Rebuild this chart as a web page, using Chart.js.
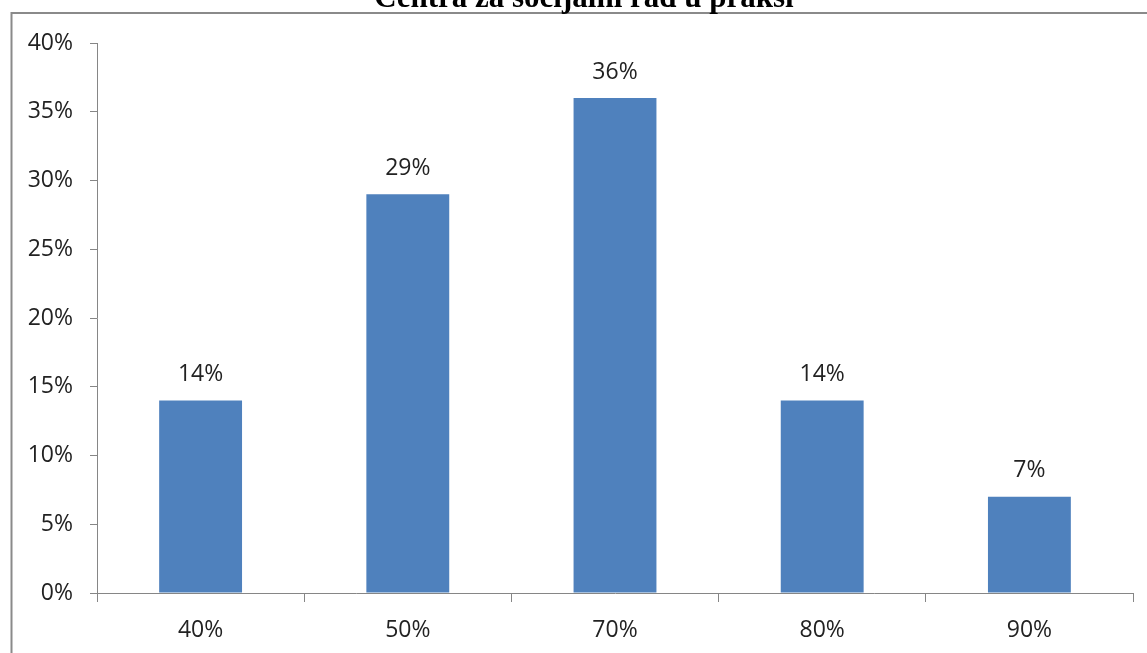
<!DOCTYPE html>
<html>
<head>
<meta charset="utf-8">
<script src="https://cdn.jsdelivr.net/npm/chart.js@4/dist/chart.umd.min.js"></script>
<style>
  html, body { margin: 0; padding: 0; background: #fff; overflow: hidden; }
  canvas { display: block; }
</style>
</head>
<body>
<canvas id="c" width="1147" height="653"></canvas>
<script>
// Share of respondents per category
const categories = ['40%', '50%', '70%', '80%', '90%'];
const shares = [14, 29, 36, 14, 7];
const yTicks = { min: 0, max: 40, step: 5 };
const titleText = 'Centra za socijalni rad u praksi';

const textFont = '"Open Sans", "Noto Sans", sans-serif';
const textColor = '#222';
const axisGray = '#868686';

// Outer frame and (partly clipped) heading
const framePlugin = {
  id: 'frame',
  beforeDraw(chart) {
    const ctx = chart.ctx;
    ctx.save();
    ctx.fillStyle = '#fff';
    ctx.fillRect(0, 0, chart.width, chart.height);
    ctx.strokeStyle = '#8a8a8a';
    ctx.lineWidth = 2;
    ctx.beginPath();
    ctx.moveTo(11.5, chart.height);
    ctx.lineTo(11.5, 13);
    ctx.lineTo(chart.width, 13);
    ctx.stroke();
    ctx.fillStyle = '#000';
    ctx.font = 'bold 31px "Liberation Serif", "Times New Roman", serif';
    ctx.textAlign = 'center';
    ctx.textBaseline = 'alphabetic';
    ctx.fillText(titleText, 584, 7);
    ctx.restore();
  }
};

// Value labels above each bar
const valueLabels = {
  id: 'valueLabels',
  afterDatasetsDraw(chart) {
    const ctx = chart.ctx;
    const meta = chart.getDatasetMeta(0);
    ctx.save();
    ctx.font = '23px ' + textFont;
    ctx.fillStyle = textColor;
    ctx.textAlign = 'center';
    ctx.textBaseline = 'middle';
    meta.data.forEach((bar, i) => {
      ctx.fillText(shares[i] + '%', bar.x, bar.y - 26);
    });
    ctx.restore();
  }
};

new Chart(document.getElementById('c'), {
  type: 'bar',
  data: {
    labels: categories,
    datasets: [{
      data: shares,
      backgroundColor: '#4F81BD',
      borderWidth: 0,
      categoryPercentage: 1,
      barPercentage: 0.4
    }]
  },
  options: {
    responsive: false,
    animation: false,
    layout: { padding: { left: 0, top: 43, right: 14, bottom: 0 } },
    plugins: {
      legend: { display: false },
      title: { display: false },
      tooltip: { enabled: false }
    },
    scales: {
      x: {
        offset: true,
        border: { color: axisGray, width: 1 },
        grid: {
          offset: true,
          drawOnChartArea: false,
          drawTicks: true,
          tickLength: 9,
          color: axisGray
        },
        ticks: {
          color: textColor,
          font: { size: 23, family: textFont },
          padding: 15
        },
        afterFit(scale) { scale.height = 60; }
      },
      y: {
        min: yTicks.min,
        max: yTicks.max,
        border: { color: axisGray, width: 1 },
        grid: {
          drawOnChartArea: false,
          drawTicks: true,
          tickLength: 7,
          color: axisGray
        },
        ticks: {
          stepSize: yTicks.step,
          color: textColor,
          font: { size: 23, family: textFont },
          padding: 17,
          callback: v => v + '%'
        },
        afterFit(scale) { scale.width = 97; }
      }
    }
  },
  plugins: [framePlugin, valueLabels]
});
</script>
</body>
</html>
